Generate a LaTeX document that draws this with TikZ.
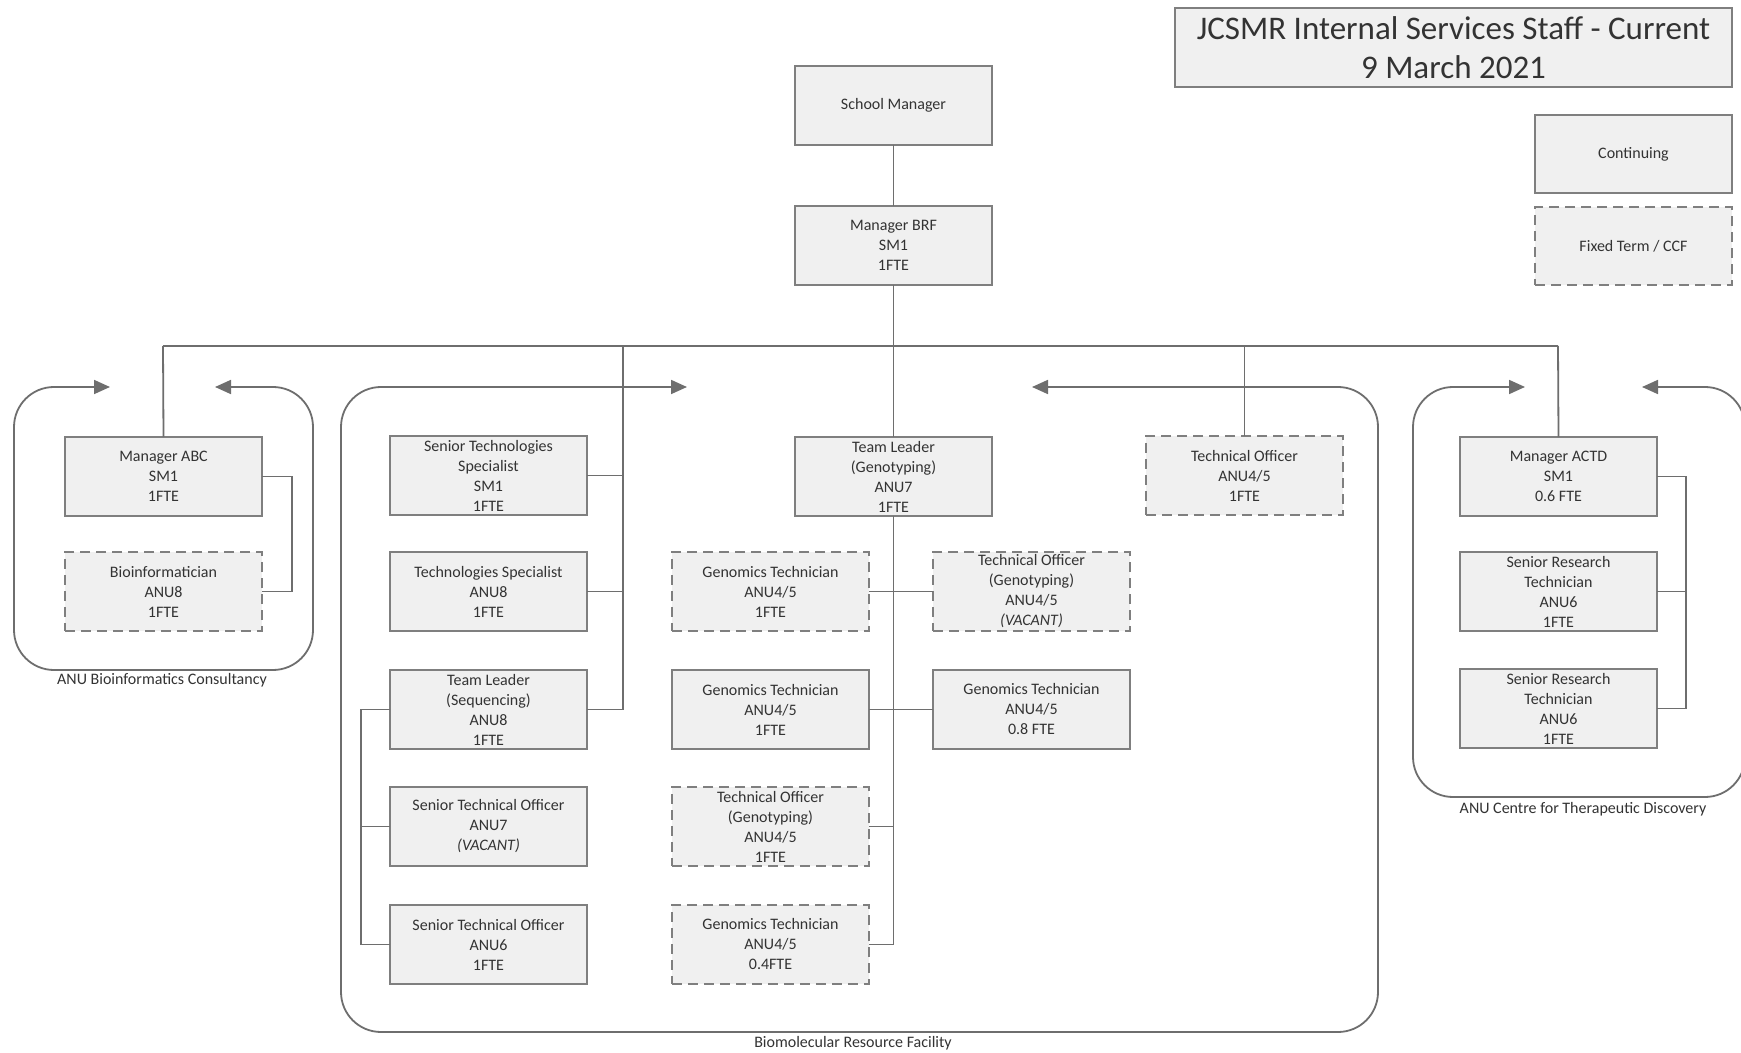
\documentclass[tikz,border=0pt]{standalone}
\usepackage{fontspec}
\setmainfont{Carlito}
\usetikzlibrary{arrows.meta}
\definecolor{boxfill}{HTML}{F0F0F0}
\definecolor{boxline}{HTML}{7F7F7F}
\definecolor{conline}{HTML}{6E6E6E}
\definecolor{txt}{HTML}{333333}
\begin{document}
\begin{tikzpicture}[x=0.5pt,y=-0.5pt,
  box/.style={draw=boxline, fill=boxfill, line width=1pt, minimum width=98.5pt, minimum height=39.5pt, inner sep=0pt, outer sep=0pt, align=center, anchor=north west, font=\fontsize{8}{10}\selectfont, text=txt},
  fixed/.style={box, dash pattern=on 5pt off 3pt},
  conn/.style={draw=conline, line width=0.9pt},
  cont/.style={draw=conline, line width=0.9pt, rounded corners=20pt, {Triangle[length=8pt,width=7pt]}-{Triangle[length=8pt,width=7pt]}},
  lbl/.style={font=\fontsize{8}{10}\selectfont, text=txt, inner sep=0pt}]
\useasboundingbox (0,0) rectangle (1741,1053);
\fill[white] (0,0) rectangle (1741,1053);

% containers
\draw[cont] (110,387) -- (14,387) -- (14,670) -- (313,670) -- (313,387) -- (215,387);
\draw[cont] (687,387) -- (341,387) -- (341,1032) -- (1378,1032) -- (1378,387) -- (1032,387);
\draw[cont] (1525,387) -- (1413,387) -- (1413,797) -- (1745,797) -- (1745,387) -- (1642,387);
\node[lbl] (labc) at (162,680) {ANU Bioinformatics Consultancy};
\node[lbl] (lbrf) at (853,1043) {Biomolecular Resource Facility};
\node[lbl] (lactd) at (1583,809) {ANU Centre for Therapeutic Discovery};

% title and legend
\node[box, minimum width=278.5pt, font=\fontsize{16.5}{19.5}\selectfont] (title) at (1175,8) {JCSMR Internal Services Staff - Current\\9 March 2021};
\node[box, minimum height=39pt] (leg1) at (1535,115) {Continuing};
\node[fixed, minimum height=39pt] (leg2) at (1535,207) {Fixed Term / CCF};

% top
\node[box] (sm) at (795,66) {School Manager};
\node[box] (mbrf) at (795,206) {Manager BRF\\SM1\\1FTE};

% ABC
\node[box] (mabc) at (65,437) {Manager ABC\\SM1\\1FTE};
\node[fixed] (bioinf) at (65,552) {Bioinformatician\\ANU8\\1FTE};

% BRF left column
\node[box] (sts) at (390,436) {Senior Technologies\\Specialist\\SM1\\1FTE};
\node[box] (ts) at (390,552) {Technologies Specialist\\ANU8\\1FTE};
\node[box] (tls) at (390,670) {Team Leader\\(Sequencing)\\ANU8\\1FTE};
\node[box] (sto7) at (390,787) {Senior Technical Officer\\ANU7\\\textit{(VACANT)}};
\node[box] (sto6) at (390,905) {Senior Technical Officer\\ANU6\\1FTE};

% BRF genotyping
\node[box] (tlg) at (795,437) {Team Leader\\(Genotyping)\\ANU7\\1FTE};
\node[fixed] (gt1) at (672,552) {Genomics Technician\\ANU4/5\\1FTE};
\node[box] (gt2) at (672,670) {Genomics Technician\\ANU4/5\\1FTE};
\node[fixed] (tog) at (672,787) {Technical Officer\\(Genotyping)\\ANU4/5\\1FTE};
\node[fixed] (gt3) at (672,905) {Genomics Technician\\ANU4/5\\0.4FTE};
\node[fixed] (tov) at (933,552) {Technical Officer\\(Genotyping)\\ANU4/5\\\textit{(VACANT)}};
\node[box] (gt08) at (933,670) {Genomics Technician\\ANU4/5\\0.8 FTE};
\node[fixed] (to) at (1146,436) {Technical Officer\\ANU4/5\\1FTE};

% ACTD
\node[box] (mactd) at (1460,437) {Manager ACTD\\SM1\\0.6 FTE};
\node[box] (srt1) at (1460,552) {Senior Research\\Technician\\ANU6\\1FTE};
\node[box] (srt2) at (1460,669) {Senior Research\\Technician\\ANU6\\1FTE};

% connectors
\coordinate (busL) at (163,346);
\coordinate (busR) at (1558,346);
\coordinate (busB) at (623,346);
\draw[conn] (busL) -- (busR);
\draw[conn] (sm.south) -- (mbrf.north);
\draw[conn] (mbrf.south) -- (tlg.north);
\draw[conn] (busL) -- (mabc.north);
\draw[conn] (busR) -- (mactd.north);
\draw[conn] (to.north |- busL) -- (to.north);
\draw[conn] (busB) |- (tls.east);
\draw[conn] (sts.east) -- (sts.east -| busB);
\draw[conn] (ts.east) -- (ts.east -| busB);
\draw[conn] (tls.west) -- ++(-29,0) |- (sto7.west);
\draw[conn] (tls.west) -- ++(-29,0) |- (sto6.west);
\draw[conn] (tlg.south) |- (gt3.east);
\draw[conn] (gt1.east) -- (gt1.east -| tlg.south);
\draw[conn] (gt2.east) -- (gt2.east -| tlg.south);
\draw[conn] (tog.east) -- (tog.east -| tlg.south);
\draw[conn] (tov.west) -- (tov.west -| tlg.south);
\draw[conn] (gt08.west) -- (gt08.west -| tlg.south);
\draw[conn] (mabc.east) -- ++(30,0) |- (bioinf.east);
\draw[conn] (mactd.east) -- ++(29,0) |- (srt2.east);
\draw[conn] (srt1.east) -- ++(29,0);
\end{tikzpicture}
\end{document}
